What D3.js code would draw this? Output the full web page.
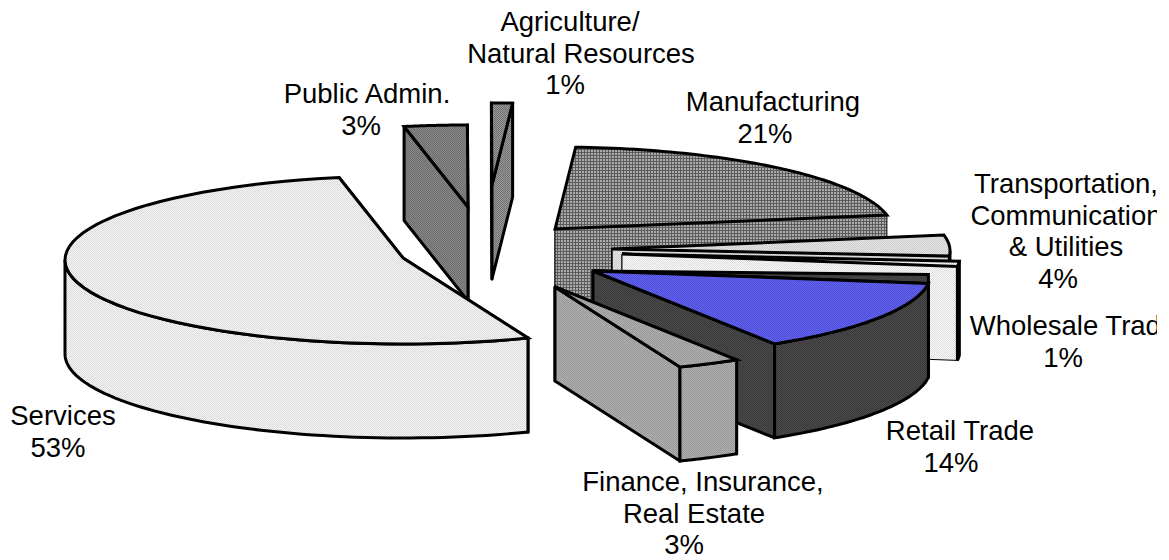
<!DOCTYPE html>
<html>
<head>
<meta charset="utf-8">
<script src="https://cdnjs.cloudflare.com/ajax/libs/d3/7.8.5/d3.min.js"></script>
<style>
  html, body { margin: 0; padding: 0; background: #fff; }
  svg { display: block; }
  text { font-family: "Liberation Sans", Arial, sans-serif; font-size: 27.5px; fill: #000; text-anchor: middle; }
</style>
</head>
<body>
<svg id="chart" width="1169" height="560"></svg>
<script>
// Employment by sector, share of total (%)
const categories = ["Services", "Public Admin.", "Agriculture/Natural Resources", "Manufacturing",
  "Transportation, Communication & Utilities", "Wholesale Trade", "Retail Trade", "Finance, Insurance, Real Estate"];
const shares = [53, 3, 1, 21, 4, 1, 14, 3];
const labelLines = [
  ["Services"], ["Public Admin."], ["Agriculture/", "Natural Resources"], ["Manufacturing"],
  ["Transportation,", "Communication", "& Utilities"], ["Wholesale Trade"], ["Retail Trade"],
  ["Finance, Insurance,", "Real Estate"]
];

// How far each wedge is pulled out of the pie, in units of the pie radius
const explodeX = [-0.4645, -0.2722, -0.2012, -0.0148, 0.1538, 0.1834, 0.0976, -0.0148];
const explodeY = [0.095, -0.512, -0.774, -0.25, -0.012, 0.048, 0.25, 0.44];

const width = 1169, height = 560;
const depth = 94, rimDrop = 2;
const startDeg = 158.3;

const x = d3.scaleLinear().domain([-1, 1]).range([222, 898]);
const y = d3.scaleLinear().domain([-1, 1]).range([166, 334]);

const svg = d3.select("#chart");
const defs = svg.append("defs");

// Halftone fills for the wedges: [background, dot, tile size, dot size]
const textures = [
  ["#f6f6f6", "#dadada", 2, 1],
  ["#8c8c8c", "#686868", 2, 1],
  ["#999999", "#707070", 2, 1],
  ["#5c5c5c", "#aaaaaa", 3, 2],
  ["#e6e6e6", "#cccccc", 2, 1],
  ["#fafafa", "#dddddd", 2, 1],
  ["#4a4a4a", "#3a3a3a", 2, 1],
  ["#b0b0b0", "#979797", 2, 1]
];
const blueTop = ["#6464ee", "#4c4cd6", 2, 1];

function addTexture(id, [bg, dot, size, dotSize]) {
  const p = defs.append("pattern").attr("id", id)
    .attr("patternUnits", "userSpaceOnUse").attr("width", size).attr("height", size);
  p.append("rect").attr("width", size).attr("height", size).attr("fill", bg);
  p.append("rect").attr("width", dotSize).attr("height", dotSize).attr("fill", dot);
  if (size === 2) p.append("rect").attr("x", 1).attr("y", 1).attr("width", 1).attr("height", 1).attr("fill", dot);
}
textures.forEach((t, i) => addTexture("tex" + i, t));
addTexture("texBlue", blueTop);

const toRad = d => d * Math.PI / 180;
const pie = d3.pie().sort(null).value(d => d)
  .startAngle(toRad(startDeg)).endAngle(toRad(startDeg + 360));
const arcs = pie(shares);

const line = d3.line();

// Wedges are painted from the back of the pie to the front
const paintOrder = [1, 2, 0, 3, 4, 5, 6, 7];
// Strength of the outline on the cut faces of each wedge
const faceStroke = [3, 3, 3, 1, 1.5, 1, 3, 3];
// The retail wedge shows a sliver of its back face above the top surface
const backLip = [0, 0, 0, 0, 0, 0, 9, 0];

paintOrder.forEach(i => {
  const a = arcs[i];
  const ox = explodeX[i], oy = explodeY[i];
  // d3.pie measures from 12 o'clock, the rim formula from 3 o'clock
  const t0 = a.startAngle - Math.PI / 2, t1 = a.endAngle - Math.PI / 2;
  const rim = (t, dz = 0) => [x(ox + Math.cos(t)), y(oy + Math.sin(t)) + rimDrop + dz];
  const apex = (dz = 0) => [x(ox), y(oy) + dz];
  const sweep = (from, to) => d3.range(0, 61).map(k => from + (to - from) * k / 60);

  const g = svg.append("g").attr("class", "wedge").attr("data-category", categories[i]);
  const fill = `url(#tex${i})`;

  // Cut faces, the one further back first
  const faces = [t0, t1].sort((p, q) => Math.sin(p) - Math.sin(q));
  faces.forEach(t => {
    g.append("path")
      .attr("d", line([apex(), rim(t), rim(t, depth), apex(depth)]) + "Z")
      .attr("fill", fill).attr("stroke", "#000")
      .attr("stroke-width", faceStroke[i]).attr("stroke-linejoin", "round");
  });

  // Outer wall, only where the rim faces the viewer
  for (const turn of [0, 2 * Math.PI]) {
    const from = Math.max(t0, turn), to = Math.min(t1, turn + Math.PI);
    if (to <= from) continue;
    const top = sweep(from, to).map(t => rim(t));
    const bottom = sweep(to, from).map(t => rim(t, depth));
    g.append("path").attr("d", line(top.concat(bottom)) + "Z")
      .attr("fill", fill).attr("stroke", "#000").attr("stroke-width", 3);
  }

  if (backLip[i]) {
    const r = rim(t0);
    g.append("path").attr("d", line([apex(), [r[0], r[1] - backLip[i]], r]) + "Z")
      .attr("fill", fill).attr("stroke", "#000").attr("stroke-width", 3);
  }

  // Top surface
  const isBlue = categories[i] === "Retail Trade";
  g.append("path")
    .attr("d", line([apex()].concat(sweep(t0, t1).map(t => rim(t)))) + "Z")
    .attr("fill", isBlue ? "url(#texBlue)" : fill)
    .attr("stroke", "#000").attr("stroke-width", 3).attr("stroke-linejoin", "miter");
});

// Data labels, cut off where the chart area ends
defs.append("clipPath").attr("id", "plotClip")
  .append("rect").attr("width", 1157).attr("height", height);
const labelLayer = svg.append("g").attr("clip-path", "url(#plotClip)");
const labelAnchor = [
  [63, 425], [367, 103], [581, 31], [773, 111],
  [1066, 193], [1073, 335], [960, 440], [703, 491]
];
// Sideways nudge of each text line, the percentage being the last line of each label
const lineNudge = [
  [0, -5], [0, -6], [-11, 0, -16], [0, -8],
  [0, 0, 0, -8], [0, -10], [0, -9], [0, -9, -19]
];
const lineHeight = 31.5;
categories.forEach((c, i) => {
  const [lx, ly] = labelAnchor[i];
  const txt = labelLayer.append("text").attr("x", lx).attr("y", ly);
  labelLines[i].concat(shares[i] + "%").forEach((l, k) => {
    txt.append("tspan").attr("x", lx + lineNudge[i][k]).attr("y", ly + k * lineHeight).text(l);
  });
});
</script>
</body>
</html>
